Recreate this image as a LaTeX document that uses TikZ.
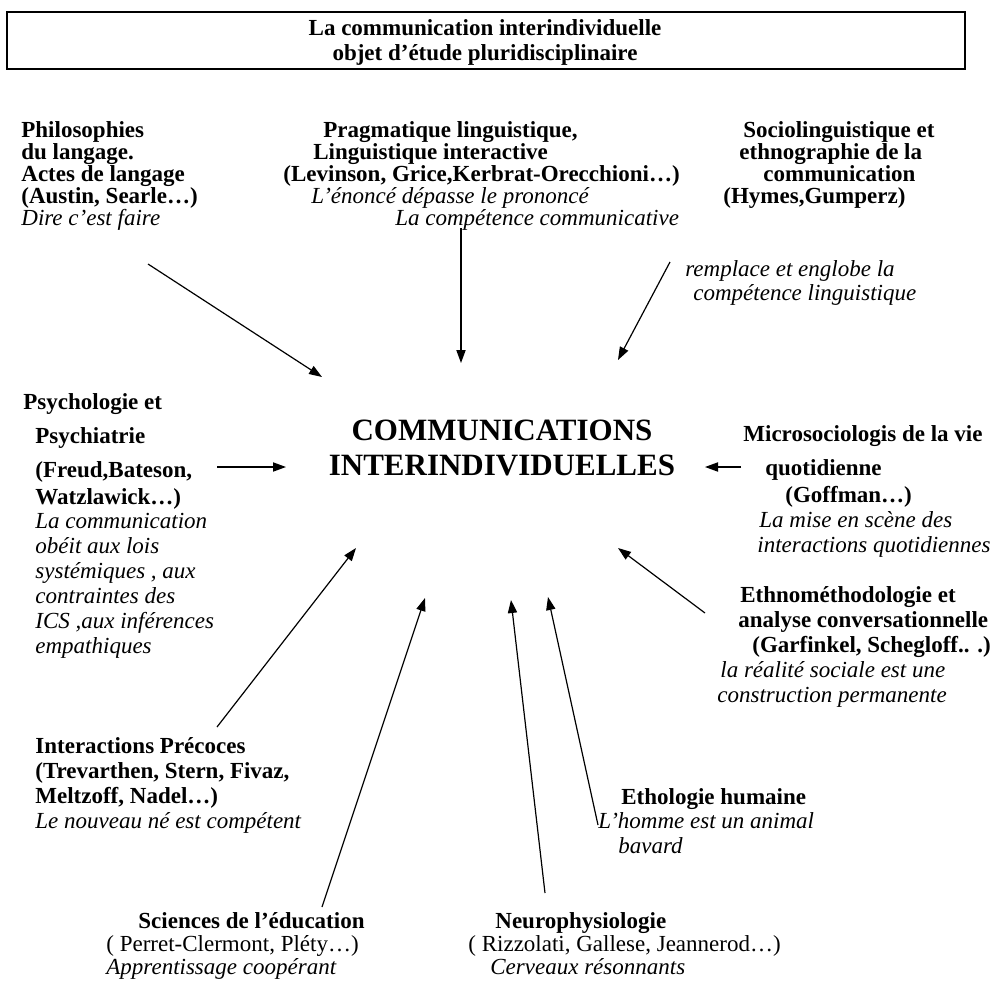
\documentclass[tikz,border=0pt]{standalone}
\usepackage{fontspec}
\setmainfont{Liberation Serif}
\usetikzlibrary{arrows.meta}
\newlength\pxu
\setlength\pxu{0.5pt}
\newcommand\ind[1]{\hspace*{#1\pxu}}
\newcommand\itl[1]{{\mdseries\itshape #1}}
\newcommand\rgl[1]{{\mdseries #1}}

\begin{document}
\begin{tikzpicture}[x=0.5pt,y=-0.5pt,
    lbl/.style={font=\fontsize{11.5}{#1}\selectfont\bfseries},
    lbl/.default=11,
    every node/.style={inner sep=0pt,align=left,anchor=base west,lbl},
    arr/.style={line width=0.6pt,-{Triangle[length=6.5pt,width=4.6pt]}}]
  \useasboundingbox (0,0) rectangle (993,981);
  % TITLE
  \draw[line width=0.7pt] (7,12) rectangle (965,69);
  \node[lbl=12.5,align=center,anchor=base] (title) at (485,60)
    {La communication interindividuelle\\objet d’étude pluridisciplinaire};
  % CENTRE (node base = last line)
  \node[font=\fontsize{15.5}{17.5}\selectfont\bfseries,align=center,anchor=base] (core) at (502,475)
    {COMMUNICATIONS\\INTERINDIVIDUELLES};
  % TOP ROW
  \node (philo) at (21,225) {Philosophies\\du langage.\\Actes de langage\\(Austin, Searle…)\\\itl{Dire c’est faire}};
  \node (prag) at (283,225) {\ind{40}Pragmatique linguistique,\\\ind{30}Linguistique interactive\\(Levinson, Grice,Kerbrat-Orecchioni…)\\\ind{28}\itl{L’énoncé dépasse le prononcé}\\\ind{112}\itl{La compétence communicative}};
  \node (socio) at (723,203) {\ind{20}Sociolinguistique et\\\ind{16}ethnographie de la\\\ind{40}communication\\(Hymes,Gumperz)};
  \node[font=\fontsize{11.5}{12}\selectfont\itshape] (socio-note) at (685,300) {remplace et englobe la\\\ind{8}compétence linguistique};
  % MIDDLE ROW
  \node (psy) at (23,653) {Psychologie et\\[6pt]\ind{12}Psychiatrie\\[6pt]\ind{12}(Freud,Bateson,\\[2.5pt]\ind{12}Watzlawick…)\\[1pt]\ind{12}\itl{La communication}\\[1.5pt]\ind{12}\itl{obéit aux lois}\\[1.5pt]\ind{12}\itl{systémiques , aux}\\[1.5pt]\ind{12}\itl{contraintes des}\\[1.5pt]\ind{12}\itl{ICS ,aux inférences}\\[1.5pt]\ind{12}\itl{empathiques}};
  \node (micro) at (743,552) {Microsociologis de la vie\\[6pt]\ind{22}quotidienne\\[2.5pt]\ind{42}(Goffman…)\\[1.5pt]\ind{16}\itl{La mise en scène des}\\[1.5pt]\ind{14}\itl{interactions quotidiennes}};
  \node[lbl=12.5] (ethno) at (717,702) {\ind{23}Ethnométhodologie et\\\ind{21}analyse conversationnelle\\\ind{35}(Garfinkel, Schegloff.. .)\\\ind{3}\itl{la réalité sociale est une}\\\itl{construction permanente}};
  % BOTTOM ROW
  \node[lbl=12.4] (inter) at (35,828) {Interactions Précoces\\(Trevarthen, Stern, Fivaz,\\Meltzoff, Nadel…)\\\itl{Le nouveau né est compétent}};
  \node[lbl=12.25] (etho) at (598,853) {\ind{23}Ethologie humaine\\\itl{L’homme est un animal}\\\ind{20}\itl{bavard}};
  \node[lbl=11.5] (sci) at (106,974) {\ind{32}Sciences de l’éducation\\\rgl{( Perret-Clermont, Pléty…)}\\\itl{Apprentissage coopérant}};
  \node[lbl=11.5] (neuro) at (468,974) {\ind{27}Neurophysiologie\\\rgl{( Rizzolati, Gallese, Jeannerod…)}\\\ind{22}\itl{Cerveaux résonnants}};
  % ARROWS
  \coordinate (philo-s) at (148,264);  \coordinate (philo-t) at (322,377);
  \coordinate (prag-s) at (461,228);   \coordinate (prag-t) at (461,363);
  \coordinate (socio-s) at (670,262);  \coordinate (socio-t) at (618,360);
  \coordinate (psy-s) at (217,467);    \coordinate (psy-t) at (286,467);
  \coordinate (micro-s) at (741,467);  \coordinate (micro-t) at (705,467);
  \coordinate (ethno-s) at (705,613);  \coordinate (ethno-t) at (618,548);
  \coordinate (inter-s) at (217,727);  \coordinate (inter-t) at (356,548);
  \coordinate (sci-s) at (322,907);    \coordinate (sci-t) at (425,598);
  \coordinate (neuro-s) at (545,893);  \coordinate (neuro-t) at (511,600);
  \coordinate (etho-s) at (598,825);   \coordinate (etho-t) at (548,597);
  \draw[arr] (philo-s) -- (philo-t);
  \draw[arr] (prag-s) -- (prag-t);
  \draw[arr] (socio-s) -- (socio-t);
  \draw[arr] (psy-s) -- (psy-t);
  \draw[arr] (micro-s) -- (micro-t);
  \draw[arr] (ethno-s) -- (ethno-t);
  \draw[arr] (inter-s) -- (inter-t);
  \draw[arr] (sci-s) -- (sci-t);
  \draw[arr] (neuro-s) -- (neuro-t);
  \draw[arr] (etho-s) -- (etho-t);
\end{tikzpicture}
\end{document}
